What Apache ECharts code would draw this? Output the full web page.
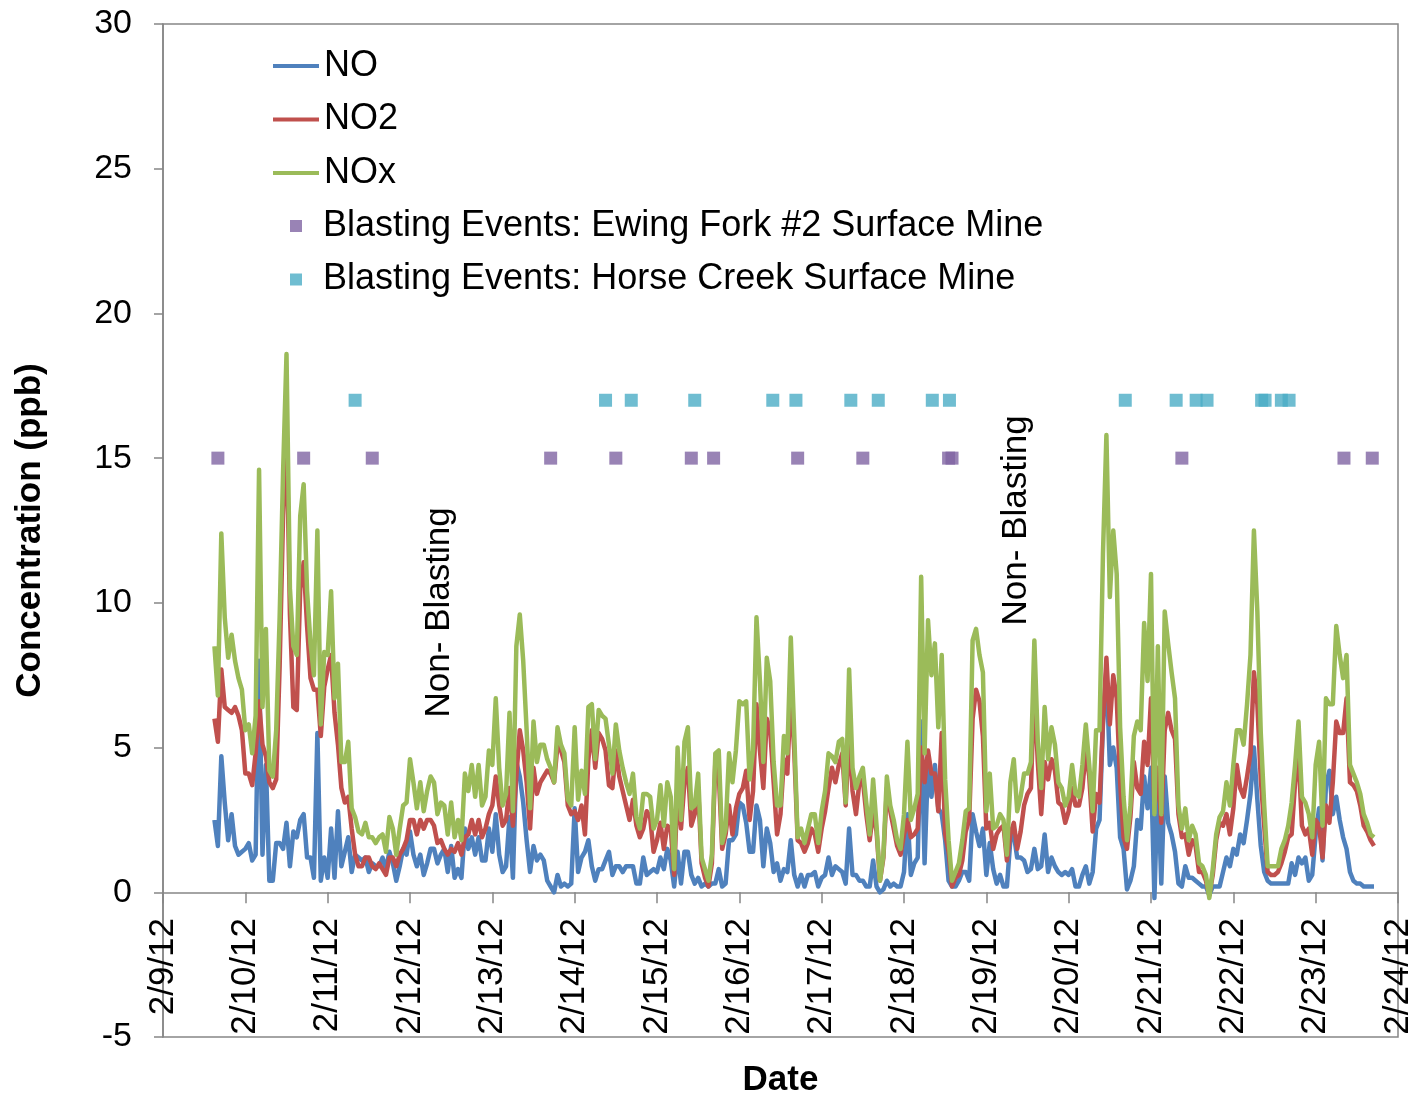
<!DOCTYPE html>
<html>
<head>
<meta charset="utf-8">
<script src="https://cdn.jsdelivr.net/npm/echarts@6/dist/echarts.min.js"></script>
<style>
  html, body { margin: 0; padding: 0; background: #ffffff; }
  #chart { width: 1418px; height: 1098px; }
</style>
</head>
<body>
<div id="chart"></div>
<script>
// Hourly NO / NO2 / NOx concentrations (ppb), first reading 2/9/12 15:00, last 2/23/12 17:00
const startHour = 15;

const dateLabels = ['2/9/12', '2/10/12', '2/11/12', '2/12/12', '2/13/12', '2/14/12', '2/15/12', '2/16/12',
  '2/17/12', '2/18/12', '2/19/12', '2/20/12', '2/21/12', '2/22/12', '2/23/12', '2/24/12'];

const noValues = [
  2.5, 1.6, 4.7, 3.1, 1.8, 2.7, 1.6, 1.3, 1.4,
  1.5, 1.7, 1.1, 1.3, 8.0, 1.3, 4.4, 0.4, 0.4, 1.7, 1.7, 1.5, 2.4, 0.9, 2.1, 1.9, 2.5, 2.7, 1.2, 1.2, 0.5, 5.5, 0.4, 1.2,
  0.5, 2.2, 0.5, 2.8, 0.9, 1.4, 1.9, 0.7, 1.3, 1.2, 1.1, 1.2, 0.7, 1.0, 0.9, 0.9, 1.2, 0.8, 1.4, 1.0, 0.4, 0.9, 1.5, 1.3,
  2.1, 1.3, 0.9, 1.3, 0.6, 1.0, 1.5, 1.5, 1.0, 1.3, 1.5, 0.7, 1.6, 0.5, 0.8, 0.5, 2.2, 1.5, 1.9, 1.3, 1.9, 1.1, 1.1, 2.2,
  1.4, 2.7, 1.3, 0.7, 0.9, 2.6, 0.5, 4.5, 4.0, 3.1, 1.8, 0.7, 1.6, 1.1, 1.3, 1.1, 0.4, 0.2, 0.0, 0.6, 0.2, 0.3, 0.2, 0.3,
  2.9, 0.7, 1.2, 1.4, 1.8, 0.9, 0.4, 0.8, 0.8, 1.1, 1.4, 0.6, 0.9, 0.9, 0.7, 0.9, 0.9, 0.9, 0.3, 0.3, 1.2, 0.6, 0.7, 0.8,
  0.7, 1.2, 0.8, 1.5, 1.1, 0.2, 1.4, 0.3, 1.4, 1.4, 0.6, 0.3, 0.5, 0.2, 0.3, 0.2, 0.3, 0.3, 0.8, 0.2, 0.3, 1.8, 1.8, 2.0,
  3.1, 3.0, 2.4, 1.4, 1.4, 3.0, 2.5, 0.9, 2.2, 1.7, 0.7, 1.0, 0.4, 0.8, 0.7, 1.8, 0.6, 0.2, 0.6, 0.2, 0.6, 0.6, 0.7, 0.2,
  0.5, 0.6, 1.2, 0.6, 0.9, 0.8, 0.7, 0.3, 2.2, 0.6, 0.6, 0.4, 0.4, 0.2, 0.2, 1.1, 0.2, 0.0, 0.1, 0.4, 0.2, 0.3, 0.2, 0.2,
  0.7, 2.7, 0.6, 1.0, 1.2, 5.9, 1.0, 4.5, 3.3, 4.4, 2.9, 2.7, 1.8, 0.4, 0.2, 0.2, 0.4, 0.7, 0.7, 0.4, 2.7, 2.1, 1.6, 2.2,
  0.6, 1.7, 0.8, 0.3, 0.6, 0.2, 0.2, 1.8, 2.0, 1.2, 1.2, 1.1, 0.7, 0.8, 1.5, 0.8, 0.9, 2.0, 0.7, 1.2, 0.9, 0.7, 0.6, 0.7,
  0.6, 0.8, 0.2, 0.2, 0.6, 0.9, 0.3, 0.7, 2.2, 2.5, 5.8, 7.7, 4.4, 5.0, 4.3, 1.9, 1.5, 0.1, 0.4, 0.9, 2.5, 2.2, 4.0, 2.9,
  4.3, -0.2, 3.9, 0.3, 4.0, 2.4, 2.0, 1.4, 0.3, 0.2, 0.9, 0.5, 0.5, 0.4, 0.3, 0.2, 0.2, -0.1, 0.2, 0.2, 0.2, 0.7, 1.2, 0.9,
  1.5, 1.3, 2.0, 1.7, 2.5, 3.4, 5.0, 3.2, 1.6, 0.7, 0.4, 0.3, 0.3, 0.3, 0.3, 0.3, 0.3, 1.0, 0.6, 1.2, 1.0, 1.2, 0.4, 0.6,
  2.0, 2.9, 1.1, 3.7, 4.2, 2.7, 3.3, 2.5, 1.9, 1.5, 0.7, 0.4, 0.3, 0.3, 0.2, 0.2, 0.2, 0.2
];

const no2Values = [
  6.0, 5.2, 7.7, 6.4, 6.3, 6.2, 6.4, 6.1, 5.6,
  4.1, 4.1, 3.7, 4.8, 6.6, 5.1, 4.7, 3.8, 3.6, 3.9, 7.8, 13.0, 16.2, 9.6, 6.4, 6.3, 10.5, 11.4, 9.2, 7.4, 7.0, 7.0, 5.4, 7.1,
  7.7, 8.2, 6.2, 5.1, 3.6, 3.1, 3.3, 2.2, 1.3, 0.9, 0.9, 1.2, 1.2, 0.9, 0.8, 1.0, 0.8, 0.6, 1.2, 1.2, 0.9, 1.3, 1.5, 1.8,
  2.5, 2.5, 2.0, 2.5, 2.2, 2.5, 2.5, 2.3, 1.7, 1.8, 1.5, 1.3, 1.5, 1.4, 1.7, 1.3, 1.9, 2.0, 2.5, 2.0, 2.5, 1.9, 2.2, 2.7,
  3.0, 4.0, 3.0, 2.3, 2.5, 3.6, 2.3, 4.0, 5.6, 4.9, 3.8, 2.2, 4.3, 3.4, 3.8, 4.0, 4.2, 4.1, 3.8, 5.1, 4.9, 4.5, 3.0, 2.7,
  2.8, 2.5, 3.0, 2.0, 4.6, 5.6, 4.3, 5.5, 5.3, 4.9, 3.7, 3.6, 4.9, 4.0, 3.5, 3.0, 2.5, 3.2, 2.3, 1.9, 2.2, 2.8, 2.6, 1.4,
  1.8, 2.4, 1.5, 2.3, 2.2, 0.6, 3.6, 2.2, 3.8, 4.3, 2.3, 2.7, 3.6, 1.0, 0.5, 0.2, 1.0, 4.5, 4.1, 1.5, 2.0, 3.0, 2.0, 2.9,
  3.4, 3.6, 4.2, 2.5, 3.5, 6.5, 4.9, 3.6, 6.0, 5.6, 3.8, 2.0, 2.7, 4.6, 4.1, 7.0, 4.9, 1.8, 1.7, 1.4, 1.7, 2.2, 2.0, 1.4,
  2.2, 2.8, 3.6, 4.3, 3.8, 4.4, 4.8, 3.0, 5.5, 3.5, 2.7, 3.8, 3.9, 2.7, 1.8, 2.8, 2.1, 0.4, 1.2, 3.6, 2.8, 2.2, 1.6, 1.3,
  2.0, 2.5, 1.9, 2.0, 2.2, 5.0, 3.8, 4.9, 4.1, 4.1, 2.8, 5.5, 2.0, 1.4, 0.2, 0.5, 0.6, 1.1, 2.1, 2.5, 6.0, 7.0, 6.6, 5.4,
  2.2, 2.4, 1.5, 2.0, 2.2, 2.3, 1.1, 2.0, 2.4, 1.5, 2.1, 3.0, 3.4, 3.6, 7.2, 4.5, 2.7, 4.5, 3.9, 4.6, 4.2, 3.1, 3.0, 2.4,
  2.8, 3.6, 3.0, 3.0, 3.6, 4.9, 4.0, 2.1, 3.4, 3.1, 5.9, 8.1, 5.8, 7.5, 6.7, 3.8, 1.9, 1.5, 2.6, 4.5, 3.6, 3.4, 5.2, 4.4,
  6.7, 2.9, 4.3, 2.4, 5.6, 6.2, 5.6, 5.3, 2.7, 1.9, 2.0, 1.3, 1.8, 1.6, 0.7, 0.7, 0.4, -0.1, 0.6, 1.8, 2.4, 2.3, 2.7, 2.0,
  2.9, 4.4, 3.6, 3.3, 4.0, 4.8, 7.6, 6.5, 3.9, 2.3, 0.7, 0.6, 0.6, 0.7, 1.0, 1.4, 1.9, 2.0, 3.8, 4.7, 2.3, 2.0, 2.2, 1.3,
  2.5, 2.3, 1.2, 3.0, 2.4, 3.8, 5.9, 5.5, 5.5, 6.7, 3.8, 3.7, 3.5, 3.0, 2.3, 2.1, 1.8, 1.6
];

const noxValues = [
  8.5, 6.8, 12.4, 9.5, 8.1, 8.9, 8.0, 7.4, 7.0,
  5.6, 5.8, 4.8, 6.1, 14.6, 6.4, 9.1, 4.2, 4.0, 5.6, 9.5, 14.5, 18.6, 10.5, 8.5, 8.2, 13.0, 14.1, 10.4, 8.6, 7.5, 12.5, 5.8, 8.3,
  8.2, 10.4, 6.7, 7.9, 4.5, 4.5, 5.2, 2.9, 2.6, 2.1, 2.0, 2.4, 1.9, 1.9, 1.7, 1.9, 2.0, 1.4, 2.6, 2.2, 1.3, 2.2, 3.0, 3.1,
  4.6, 3.8, 2.9, 3.8, 2.8, 3.5, 4.0, 3.8, 2.7, 3.1, 3.0, 2.0, 3.1, 1.9, 2.5, 1.8, 4.1, 3.5, 4.4, 3.3, 4.4, 3.0, 3.3, 4.9,
  4.4, 6.7, 4.3, 3.0, 3.4, 6.2, 2.8, 8.5, 9.6, 8.0, 5.6, 2.9, 5.9, 4.5, 5.1, 5.1, 4.6, 4.3, 3.8, 5.7, 5.1, 4.8, 3.2, 3.0,
  5.7, 3.2, 4.2, 3.4, 6.4, 6.5, 4.6, 6.3, 6.1, 6.0, 5.1, 4.1, 5.8, 4.9, 4.3, 3.8, 3.4, 4.1, 2.6, 2.2, 3.4, 3.4, 3.3, 2.2,
  2.5, 3.7, 2.3, 3.8, 3.3, 0.8, 5.0, 2.5, 5.2, 5.7, 2.9, 3.0, 4.1, 1.2, 0.8, 0.4, 1.3, 4.8, 4.9, 1.7, 2.2, 4.8, 3.8, 4.9,
  6.6, 6.5, 6.6, 3.9, 4.9, 9.5, 7.3, 4.5, 8.1, 7.3, 4.5, 3.0, 3.0, 5.4, 4.8, 8.8, 5.5, 1.9, 2.2, 1.7, 2.2, 2.7, 2.7, 1.7,
  2.8, 3.5, 4.8, 4.7, 4.5, 5.2, 5.3, 3.1, 7.7, 4.3, 3.6, 4.0, 4.3, 3.1, 2.0, 3.9, 2.3, 0.4, 1.3, 4.0, 3.0, 2.5, 1.8, 1.5,
  2.7, 5.2, 2.5, 2.9, 3.4, 10.9, 4.8, 9.4, 7.5, 8.6, 5.7, 8.2, 3.9, 1.8, 0.4, 0.7, 1.0, 1.8, 2.8, 2.9, 8.7, 9.1, 8.2, 7.6,
  2.8, 4.1, 2.2, 2.3, 2.7, 2.5, 1.3, 3.8, 4.6, 2.8, 3.3, 4.1, 4.1, 4.5, 8.7, 5.2, 3.6, 6.4, 4.6, 5.7, 5.1, 3.8, 3.6, 3.0,
  3.3, 4.4, 3.4, 3.3, 4.4, 5.8, 4.4, 2.8, 5.6, 5.6, 11.7, 15.8, 10.2, 12.5, 11.0, 5.7, 3.3, 1.8, 3.0, 5.4, 5.9, 5.6, 9.3, 7.3,
  11.0, 2.7, 8.5, 2.7, 9.7, 8.6, 7.6, 6.7, 3.0, 2.2, 2.9, 1.8, 2.3, 2.0, 1.0, 0.9, 0.6, -0.2, 0.8, 2.0, 2.6, 2.8, 3.8, 3.0,
  4.4, 5.6, 5.6, 5.1, 6.5, 8.2, 12.5, 9.7, 5.5, 3.0, 0.9, 0.9, 0.9, 0.9, 1.5, 1.8, 2.3, 3.1, 4.4, 5.9, 3.3, 3.1, 2.7, 1.9,
  4.4, 5.2, 2.3, 6.7, 6.5, 6.5, 9.2, 8.2, 7.4, 8.2, 4.4, 4.1, 3.8, 3.4, 2.7, 2.4, 2.0, 1.9
];

// Blasting events (date hh:mm), plotted at a fixed marker level per mine
const ewingTimes = ['2/9 16:00', '2/10 17:00', '2/11 13:00', '2/13 17:00', '2/14 12:00', '2/15 10:00', '2/15 16:30',
  '2/16 17:00', '2/17 12:00', '2/18 13:00', '2/18 14:00', '2/21 9:00', '2/23 8:15', '2/23 16:30'];
const ewingLevels = [15, 15, 15, 15, 15, 15, 15, 15, 15, 15, 15, 15, 15, 15];

const horseTimes = ['2/11 8:00', '2/14 9:00', '2/14 16:30', '2/15 11:00', '2/16 9:45', '2/16 16:30', '2/17 8:30',
  '2/17 16:30', '2/18 8:15', '2/18 13:15', '2/20 16:30', '2/21 7:20', '2/21 13:10', '2/21 16:20', '2/22 8:15',
  '2/22 9:15', '2/22 14:00', '2/22 16:15'];
const horseLevels = [17, 17, 17, 17, 17, 17, 17, 17, 17, 17, 17, 17, 17, 17, 17, 17, 17, 17];

// Period annotations (centre of each vertical label, in days since 2/9 and ppb)
const noteText = ['Non- Blasting', 'Non- Blasting'];
const noteDays = [3.36, 10.36];
const noteLevels = [9.67, 12.85];

const FONT = '"Liberation Sans", Arial, Helvetica, sans-serif';
const AXIS_GRAY = '#868686';

// days elapsed since 2/9/12 00:00
function toDay(stamp) {
  const [md, hm] = stamp.split(' ');
  const d = parseInt(md.split('/')[1], 10);
  const [h, m] = hm.split(':').map(Number);
  return (d - 9) + h / 24 + m / 1440;
}

function hourly(values) {
  return values.map((v, i) => [(startHour + i) / 24, v]);
}

const chart = echarts.init(document.getElementById('chart'), null, { renderer: 'canvas' });

const lineSeries = (name, values, color) => ({
  name: name,
  type: 'line',
  data: hourly(values),
  symbol: 'none',
  showSymbol: false,
  lineStyle: { width: 4.5, color: color, join: 'round' },
  itemStyle: { color: color },
  animation: false
});

const xScale = { type: 'value', min: 0, max: 15, interval: 1 };

chart.setOption({
  backgroundColor: '#ffffff',
  animation: false,
  grid: {
    left: 163, right: 20, top: 24, bottom: 61,
    containLabel: false, outerBoundsMode: 'none',
    show: true, borderColor: AXIS_GRAY, borderWidth: 1.5, backgroundColor: 'transparent'
  },
  legend: [
    {
      data: ['NO', 'NO2', 'NOx'],
      orient: 'vertical',
      left: 273, top: 46, padding: 0,
      icon: 'rect',
      itemWidth: 46, itemHeight: 4, itemGap: 13.5,
      textStyle: { fontSize: 36, color: '#000', fontFamily: FONT, lineHeight: 40 }
    },
    {
      data: ['Blasting Events: Ewing Fork #2 Surface Mine', 'Blasting Events: Horse Creek Surface Mine'],
      orient: 'vertical',
      left: 290, top: 206, padding: 0,
      icon: 'rect',
      itemWidth: 12, itemHeight: 12, itemGap: 13.5,
      textStyle: { fontSize: 36, color: '#000', fontFamily: FONT, lineHeight: 40, padding: [0, 0, 0, 16] }
    }
  ],
  xAxis: [
    // date labels, hung from the bottom edge of the plot
    Object.assign({}, xScale, {
      position: 'bottom',
      name: 'Date',
      nameLocation: 'middle',
      nameGap: 26,
      nameMoveOverlap: false,
      nameTextStyle: { fontSize: 35, fontWeight: 'bold', color: '#000', fontFamily: FONT },
      axisLine: { show: false, onZero: false },
      axisTick: { show: false },
      axisLabel: {
        rotate: 90, margin: -119, fontSize: 35, color: '#000', fontFamily: FONT,
        formatter: v => dateLabels[Math.round(v)]
      },
      splitLine: { show: false }
    }),
    // zero line with daily tick marks
    Object.assign({}, xScale, {
      position: 'bottom',
      axisLine: { show: true, onZero: true, onZeroAxisIndex: 0, lineStyle: { color: AXIS_GRAY, width: 1.5 } },
      axisTick: { show: true, length: 11, lineStyle: { color: AXIS_GRAY, width: 1.5 } },
      axisLabel: { show: false },
      splitLine: { show: false }
    })
  ],
  yAxis: {
    type: 'value',
    min: -5, max: 30, interval: 5,
    name: 'Concentration (ppb)',
    nameLocation: 'middle',
    nameGap: 115,
    nameMoveOverlap: false,
    nameTextStyle: { fontSize: 35, fontWeight: 'bold', color: '#000', fontFamily: FONT },
    axisLine: { show: true, lineStyle: { color: AXIS_GRAY, width: 1.5 } },
    axisTick: { show: true, length: 9, lineStyle: { color: AXIS_GRAY, width: 1.5 } },
    axisLabel: { margin: 31, fontSize: 34, color: '#000', fontFamily: FONT },
    splitLine: { show: false }
  },
  series: [
    lineSeries('NO', noValues, '#4F81BD'),
    lineSeries('NO2', no2Values, '#C0504D'),
    lineSeries('NOx', noxValues, '#9BBB59'),
    {
      name: 'Blasting Events: Ewing Fork #2 Surface Mine',
      type: 'scatter',
      data: ewingTimes.map((t, i) => [toDay(t), ewingLevels[i]]),
      symbol: 'rect', symbolSize: 13,
      itemStyle: { color: '#8064A2' },
      z: 5
    },
    {
      name: 'Blasting Events: Horse Creek Surface Mine',
      type: 'scatter',
      data: horseTimes.map((t, i) => [toDay(t), horseLevels[i]]),
      symbol: 'rect', symbolSize: 13,
      itemStyle: { color: '#4BACC6' },
      z: 5
    }
  ]
});

// vertical "Non- Blasting" annotations placed through the grid's coordinate system
chart.setOption({
  graphic: noteText.map((txt, i) => {
    const [px, py] = chart.convertToPixel({ gridIndex: 0 }, [noteDays[i], noteLevels[i]]);
    return {
      type: 'text',
      x: px, y: py,
      rotation: Math.PI / 2,
      silent: true,
      z: 10,
      style: {
        text: txt,
        fill: '#000',
        font: '35px ' + FONT,
        align: 'center',
        verticalAlign: 'middle'
      }
    };
  })
});
</script>
</body>
</html>
